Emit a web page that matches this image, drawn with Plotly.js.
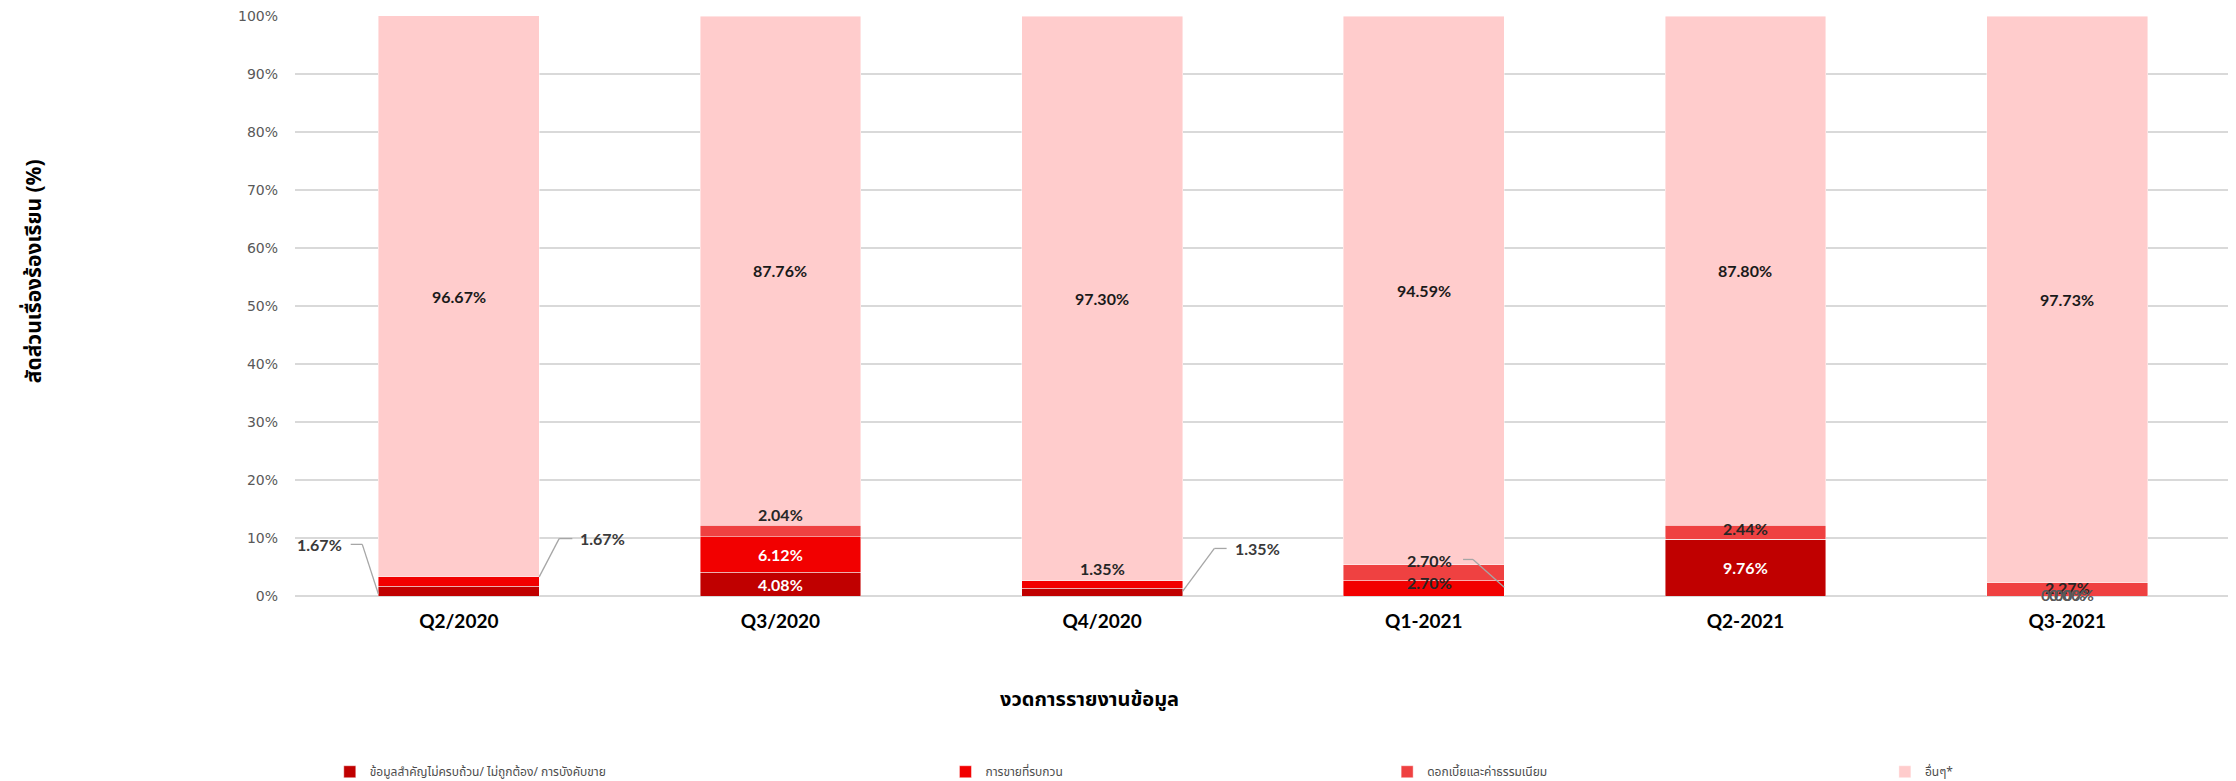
<!DOCTYPE html>
<html>
<head>
<meta charset="utf-8">
<script src="https://cdn.plot.ly/plotly-3.0.1.min.js"></script>
<style>html,body{margin:0;padding:0;background:#fff;}#chart{width:2236px;height:781px;}</style>
</head>
<body>
<div id="chart"></div>
<script>
// ---- data ----
const categories = ['Q2/2020', 'Q3/2020', 'Q4/2020', 'Q1-2021', 'Q2-2021', 'Q3-2021'];
const seriesNames = [
  'ข้อมูลสำคัญไม่ครบถ้วน/ ไม่ถูกต้อง/ การบังคับขาย',
  'การขายที่รบกวน',
  'ดอกเบี้ยและค่าธรรมเนียม',
  'อื่นๆ*'
];
const infoIncomplete  = [1.67, 4.08, 1.35, 0.00, 9.76, 0.00];
const disruptiveSales = [1.67, 6.12, 1.35, 2.70, 0.00, 0.00];
const feesInterest    = [0.00, 2.04, 0.00, 2.70, 2.44, 2.27];
const others          = [96.67, 87.76, 97.30, 94.59, 87.80, 97.73];
const yTickVals   = [0, 10, 20, 30, 40, 50, 60, 70, 80, 90, 100];
const yTickLabels = ['0%', '10%', '20%', '30%', '40%', '50%', '60%', '70%', '80%', '90%', '100%'];
const yTitle = 'สัดส่วนเรื่องร้องเรียน (%)';
const xTitle = 'งวดการรายงานข้อมูล';

// ---- styles ----
const colors = ['#C00000', '#F20000', '#EF4141', '#FFCCCC'];
const series = [infoIncomplete, disruptiveSales, feesInterest, others];
const numFont = 'Lato, "Open Sans", "DejaVu Sans", sans-serif';
const thaiFont = '"Noto Sans Thai", Tahoma, "DejaVu Sans", sans-serif';

const legendX = [0.018, 0.3365, 0.565, 0.8225];
const legendIds = ['legend', 'legend2', 'legend3', 'legend4'];

const traces = series.map((vals, s) => ({
  type: 'bar',
  name: seriesNames[s],
  x: categories,
  y: vals,
  marker: {color: colors[s], line: {color: 'rgba(255,255,255,0.55)', width: 0.8}},
  legend: legendIds[s],
  hoverinfo: 'name+y'
}));

// ---- label placement (series index, category index, dx in category units, y in %, color, leader points) ----
const fmt = v => v.toFixed(2) + '%';
const labelSpecs = [];
others.forEach((v, i) => {
  const base = infoIncomplete[i] + disruptiveSales[i] + feesInterest[i];
  labelSpecs.push({s: 3, i: i, dx: 0, y: base + v / 2, color: '#1a1a1a'});
});
labelSpecs.push({s: 0, i: 1, dx: 0, y: infoIncomplete[1] / 2, color: '#ffffff'});
labelSpecs.push({s: 1, i: 1, dx: 0, y: infoIncomplete[1] + disruptiveSales[1] / 2, color: '#ffffff'});
labelSpecs.push({s: 0, i: 4, dx: 0, y: infoIncomplete[4] / 2, color: '#ffffff'});
labelSpecs.push({s: 0, i: 0, dx: -0.433, y: 8.9, color: '#3a3a3a', leader: [[-0.336, 8.9], [-0.300, 8.9], [-0.25, 0.35]]});
labelSpecs.push({s: 1, i: 0, dx: 0.447, y: 9.9, color: '#3a3a3a', leader: [[0.25, 3.3], [0.312, 9.9], [0.353, 9.9]]});
labelSpecs.push({s: 2, i: 1, dx: 0, y: 14.0, color: '#262626'});
labelSpecs.push({s: 1, i: 2, dx: 0, y: 4.8, color: '#262626'});
labelSpecs.push({s: 0, i: 2, dx: 0.484, y: 8.2, color: '#3a3a3a', leader: [[0.25, 0.8], [0.349, 8.2], [0.387, 8.2]]});
labelSpecs.push({s: 2, i: 3, dx: 0.017, y: 6.1, color: '#262626', leader: [[0.122, 6.3], [0.153, 6.3], [0.25, 1.5]]});
labelSpecs.push({s: 1, i: 3, dx: 0.017, y: 2.4, color: '#262626'});
labelSpecs.push({s: 2, i: 4, dx: 0, y: 11.7, color: '#262626'});
labelSpecs.push({s: 2, i: 5, dx: 0, y: 1.5, color: '#262626'});
labelSpecs.push({s: 0, i: 5, dx: -0.012, y: 0.2, color: '#595959'});
labelSpecs.push({s: 1, i: 5, dx: 0.012, y: 0.2, color: '#595959'});

const annotations = labelSpecs.map(L => ({
  xref: 'x', yref: 'y',
  x: L.i + L.dx, y: L.y,
  text: '<b>' + fmt(series[L.s][L.i]) + '</b>',
  showarrow: false,
  font: {family: numFont, size: 16, color: L.color},
  xanchor: 'center', yanchor: 'middle'
}));

annotations.push({
  xref: 'paper', yref: 'paper', x: -0.135, y: 0.56,
  text: '<b>' + yTitle + '</b>', textangle: -90, showarrow: false,
  font: {family: thaiFont, size: 21, color: '#000'},
  xanchor: 'center', yanchor: 'middle'
});
annotations.push({
  xref: 'paper', yref: 'paper', x: 0.411, y: -0.18,
  text: '<b>' + xTitle + '</b>', showarrow: false,
  font: {family: thaiFont, size: 20, color: '#000'},
  xanchor: 'center', yanchor: 'middle'
});

const shapes = [];
labelSpecs.filter(L => L.leader).forEach(L => {
  for (let k = 0; k < L.leader.length - 1; k++) {
    shapes.push({
      type: 'line', xref: 'x', yref: 'y',
      x0: L.i + L.leader[k][0], y0: L.leader[k][1],
      x1: L.i + L.leader[k + 1][0], y1: L.leader[k + 1][1],
      line: {color: '#A6A6A6', width: 1.3}
    });
  }
});

const layout = {
  width: 2236, height: 781,
  margin: {l: 295, r: 8, t: 16, b: 185, pad: 0, autoexpand: false},
  paper_bgcolor: '#ffffff', plot_bgcolor: '#ffffff',
  barmode: 'stack',
  bargap: 0.5,
  showlegend: true,
  xaxis: {
    type: 'category',
    showgrid: false, zeroline: false, showline: false,
    ticks: '',
    tickfont: {family: numFont, size: 19, color: '#000', weight: 'bold'},
    ticklabelstandoff: 12,
    automargin: false
  },
  yaxis: {
    range: [0, 100],
    tickmode: 'array',
    tickvals: yTickVals,
    ticktext: yTickLabels,
    showgrid: true, gridcolor: '#D9D9D9', gridwidth: 1.5,
    zeroline: true, zerolinecolor: '#D9D9D9', zerolinewidth: 1.5,
    showline: false, ticks: '',
    tickfont: {family: '"DejaVu Sans", sans-serif', size: 14, color: '#595959'},
    ticklabelstandoff: 16,
    automargin: false
  },
  annotations: annotations,
  shapes: shapes
};
legendIds.forEach((id, k) => {
  layout[id] = {
    x: legendX[k], xanchor: 'left', y: -0.303, yanchor: 'middle',
    orientation: 'h', bgcolor: 'rgba(0,0,0,0)',
    font: {family: thaiFont, size: 12, color: '#4d4d4d'},
    itemclick: false, itemdoubleclick: false
  };
});

Plotly.newPlot('chart', traces, layout, {displayModeBar: false, staticPlot: true});
</script>
</body>
</html>
